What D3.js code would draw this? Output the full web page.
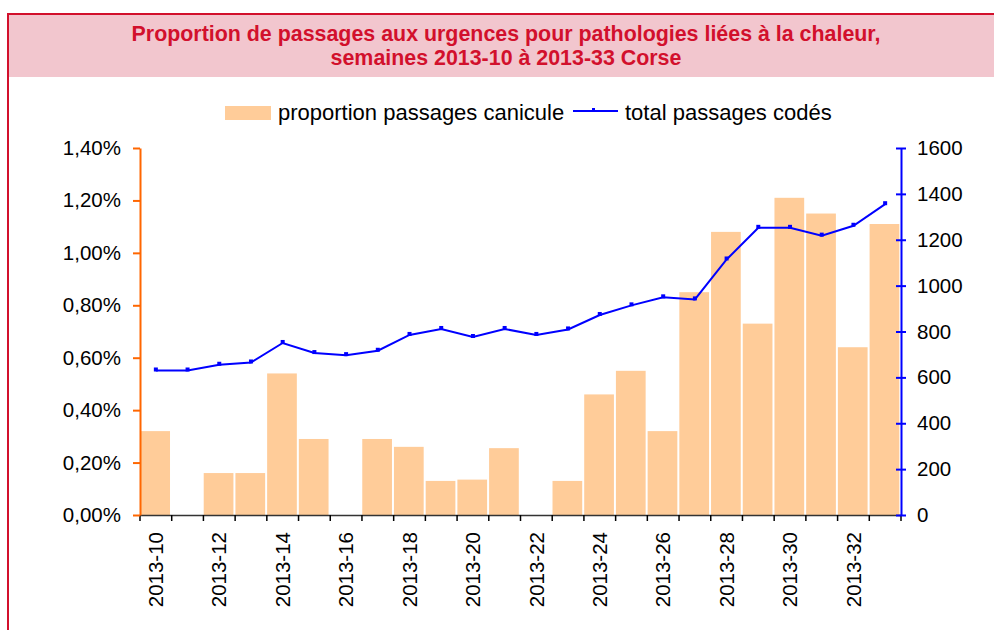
<!DOCTYPE html>
<html lang="fr">
<head>
<meta charset="UTF-8">
<title>Proportion de passages aux urgences - Corse</title>
<style>
    body { margin: 0; background: #fff; }
    svg { display: block; font-family: "Liberation Sans", Arial, sans-serif; }
    .tick text { font-size: 20.5px; fill: #000; }
</style>
</head>
<body>
<svg id="chart" width="994" height="630"></svg>
<script src="https://d3js.org/d3.v7.min.js"></script>
<script>
    // semaines 2013-10 à 2013-33
    const weeks = ['2013-10','2013-11','2013-12','2013-13','2013-14','2013-15','2013-16','2013-17',
        '2013-18','2013-19','2013-20','2013-21','2013-22','2013-23','2013-24','2013-25',
        '2013-26','2013-27','2013-28','2013-29','2013-30','2013-31','2013-32','2013-33'];

    // proportion passages canicule (%)
    const proportion = [0.32, 0, 0.16, 0.16, 0.54, 0.29, 0, 0.29,
        0.26, 0.13, 0.135, 0.255, 0, 0.13, 0.46, 0.55,
        0.32, 0.85, 1.08, 0.73, 1.21, 1.15, 0.64, 1.11];

    // total passages codés
    const totalCodes = [630, 630, 655, 665, 750, 706, 697, 716,
        785, 811, 776, 811, 785, 809, 872, 914,
        949, 940, 1114, 1252, 1252, 1218, 1261, 1355];

    const leftTicks = [0, 0.2, 0.4, 0.6, 0.8, 1.0, 1.2, 1.4];
    const rightTicks = [0, 200, 400, 600, 800, 1000, 1200, 1400, 1600];

    const svg = d3.select('#chart');

    // cadre + bandeau du titre
    svg.append('rect')
        .attr('x', 8).attr('y', 14)
        .attr('width', 1000).attr('height', 640)
        .attr('fill', 'none')
        .attr('stroke', '#d2102c')
        .attr('stroke-width', 2);
    svg.append('rect')
        .attr('x', 9).attr('y', 15)
        .attr('width', 990).attr('height', 62)
        .attr('fill', '#f2c6ce');

    const title = svg.append('text')
        .attr('text-anchor', 'middle')
        .attr('fill', '#d2102c')
        .style('font-weight', 'bold')
        .style('font-size', '21.4px');
    title.append('tspan').attr('x', 506).attr('y', 41)
        .text('Proportion de passages aux urgences pour pathologies liées à la chaleur,');
    title.append('tspan').attr('x', 506).attr('y', 65)
        .text('semaines 2013-10 à 2013-33 Corse');

    // zone du graphique
    const plotLeft = 140, plotRight = 901, plotTop = 148, plotBottom = 515;

    const xBand = d3.scaleBand().domain(weeks).range([plotLeft, plotRight]);
    const yLeft = d3.scaleLinear().domain([0, 1.4]).range([plotBottom, plotTop]);
    const yRight = d3.scaleLinear().domain([0, 1600]).range([plotBottom, plotTop]);

    // barres
    svg.append('g')
        .selectAll('rect')
        .data(weeks)
        .enter().append('rect')
        .attr('x', d => xBand(d) + 0.3)
        .attr('y', (d, i) => yLeft(proportion[i]))
        .attr('width', xBand.bandwidth() - 2)
        .attr('height', (d, i) => plotBottom - yLeft(proportion[i]))
        .attr('fill', '#ffcc99');

    // axe x
    const xAxis = svg.append('g')
        .attr('transform', `translate(0,${plotBottom})`)
        .call(d3.axisBottom(xBand)
            .tickValues(weeks.filter((d, i) => i % 2 === 0))
            .tickSize(0)
            .tickPadding(0));
    xAxis.select('.domain').attr('stroke', '#333').attr('stroke-width', 1.5);
    xAxis.selectAll('.tick text')
        .attr('transform', 'rotate(-90)')
        .attr('text-anchor', 'end')
        .attr('x', -17)
        .attr('y', 0)
        .attr('dy', '0.35em');

    // graduations entre les semaines
    svg.append('g')
        .selectAll('line')
        .data(d3.range(weeks.length + 1))
        .enter().append('line')
        .attr('x1', i => plotLeft + i * xBand.bandwidth())
        .attr('x2', i => plotLeft + i * xBand.bandwidth())
        .attr('y1', plotBottom)
        .attr('y2', plotBottom + 6)
        .attr('stroke', '#000')
        .attr('stroke-width', 1.5);

    // axe gauche
    const fmt = v => d3.format('.2f')(v).replace('.', ',') + '%';
    const yAxisLeft = svg.append('g')
        .attr('transform', `translate(${plotLeft},0)`)
        .call(d3.axisLeft(yLeft).tickValues(leftTicks).tickFormat(fmt).tickSize(7).tickSizeOuter(0).tickPadding(12));
    yAxisLeft.selectAll('.domain, line').attr('stroke', '#ff6600').attr('stroke-width', 2);

    // axe droit
    const yAxisRight = svg.append('g')
        .attr('transform', `translate(${plotRight},0)`)
        .call(d3.axisRight(yRight).tickValues(rightTicks).tickFormat(d3.format('d'))
            .tickSize(5).tickSizeOuter(0).tickPadding(11));
    yAxisRight.selectAll('.domain, line').attr('stroke', '#0000ff').attr('stroke-width', 2);
    yAxisRight.selectAll('.tick line').attr('x1', -5);

    // courbe total passages codés
    const line = d3.line()
        .x((d, i) => xBand(weeks[i]) + xBand.bandwidth() / 2)
        .y(d => yRight(d));

    svg.append('path')
        .datum(totalCodes)
        .attr('d', line)
        .attr('fill', 'none')
        .attr('stroke', '#0000ff')
        .attr('stroke-width', 2);

    svg.append('g')
        .selectAll('rect')
        .data(totalCodes)
        .enter().append('rect')
        .attr('x', (d, i) => xBand(weeks[i]) + xBand.bandwidth() / 2 - 2)
        .attr('y', d => yRight(d) - 3)
        .attr('width', 4)
        .attr('height', 4)
        .attr('fill', '#0000ff');

    // légende
    const legend = svg.append('g').style('font-size', '22px');
    legend.append('rect')
        .attr('x', 225).attr('y', 106)
        .attr('width', 46).attr('height', 14)
        .attr('fill', '#ffcc99');
    legend.append('text')
        .attr('x', 278).attr('y', 120)
        .text('proportion passages canicule');
    legend.append('line')
        .attr('x1', 573).attr('x2', 618)
        .attr('y1', 111).attr('y2', 111)
        .attr('stroke', '#0000ff').attr('stroke-width', 2);
    legend.append('rect')
        .attr('x', 592).attr('y', 108)
        .attr('width', 3).attr('height', 3)
        .attr('fill', '#0000ff');
    legend.append('text')
        .attr('x', 625).attr('y', 120)
        .text('total passages codés');
</script>
</body>
</html>
